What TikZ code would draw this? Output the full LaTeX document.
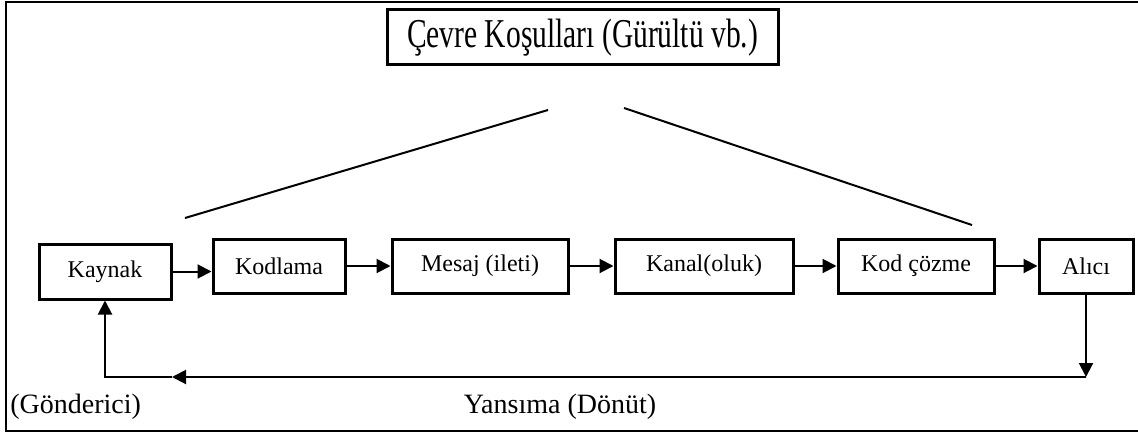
\documentclass[tikz,border=0pt]{standalone}
\usepackage{fontspec}
\setmainfont{Liberation Serif}
\usetikzlibrary{arrows.meta, positioning, calc}

\begin{document}
\begin{tikzpicture}[
    x=0.5pt, y=-0.5pt,
    stage/.style={
        rectangle, draw=black, fill=white, line width=1.5pt,
        minimum height=27pt, inner sep=2pt,
        font=\fontsize{12}{14}\selectfont
    },
    flow/.style={
        -{Triangle[length=7pt, width=7pt]}, line width=1pt
    },
    caption/.style={
        font=\fontsize{14}{16}\selectfont, inner sep=0pt
    }
]
\useasboundingbox (0,0) rectangle (1138,433);

% Frame (right side falls off the page)
\draw[line width=1pt] (1142,2.5) -- (5.5,2.5) -- (5.5,431) -- (1142,431);

% Environment box (top)
\node[stage, minimum width=195.5pt, minimum height=27.5pt,
      font=\fontsize{20.5}{24}\selectfont]
      (cevre) at (582.5,37.5) {\scalebox{0.72}[1]{Çevre Koşulları (Gürültü vb.)}};

% Communication stages
\node[stage, minimum width=66pt, minimum height=27.5pt] (kaynak) at (105,271.5) {Kaynak};
\node[stage, minimum width=66pt]   (kodlama)  at (279,266)  {Kodlama};
\node[stage, minimum width=88pt]   (mesaj)    at (480,266)  {Mesaj (ileti)};
\node[stage, minimum width=89pt]   (kanal)    at (704,266)  {Kanal(oluk)};
\node[stage, minimum width=78pt]   (kodcozme) at (916,266)  {Kod çözme};
\node[stage, minimum width=47pt]   (alici)    at (1086,266) {Alıcı};

% Noise lines
\coordinate (gurultuA) at (185,218);
\coordinate (gurultuB) at (548,110);
\coordinate (gurultuC) at (624,108);
\coordinate (gurultuD) at (972,225);
\draw[line width=1pt] (gurultuA) -- (gurultuB);
\draw[line width=1pt] (gurultuC) -- (gurultuD);

% Forward arrows
\draw[flow] (kaynak.east) -- (kaynak.east -| kodlama.west);
\foreach \from/\to in {kodlama/mesaj, mesaj/kanal, kanal/kodcozme, kodcozme/alici} {
    \draw[flow] (\from.east) -- (\to.west);
}

% Feedback loop
\coordinate (donusR) at (alici.south |- 0,377);
\coordinate (donusM) at (172,377);
\coordinate (donusL) at (kaynak.south |- 0,377);
\draw[flow] (alici.south) -- (donusR);
\draw[flow] (donusR) -- (donusM);
\draw[flow] (donusM) -- (donusL) -- (kaynak.south);

% Labels
\node[caption, anchor=base west] (gonderici) at (10,413) {(Gönderici)};
\node[caption, anchor=base] (yansima) at (560,413) {Yansıma (Dönüt)};

\end{tikzpicture}
\end{document}
